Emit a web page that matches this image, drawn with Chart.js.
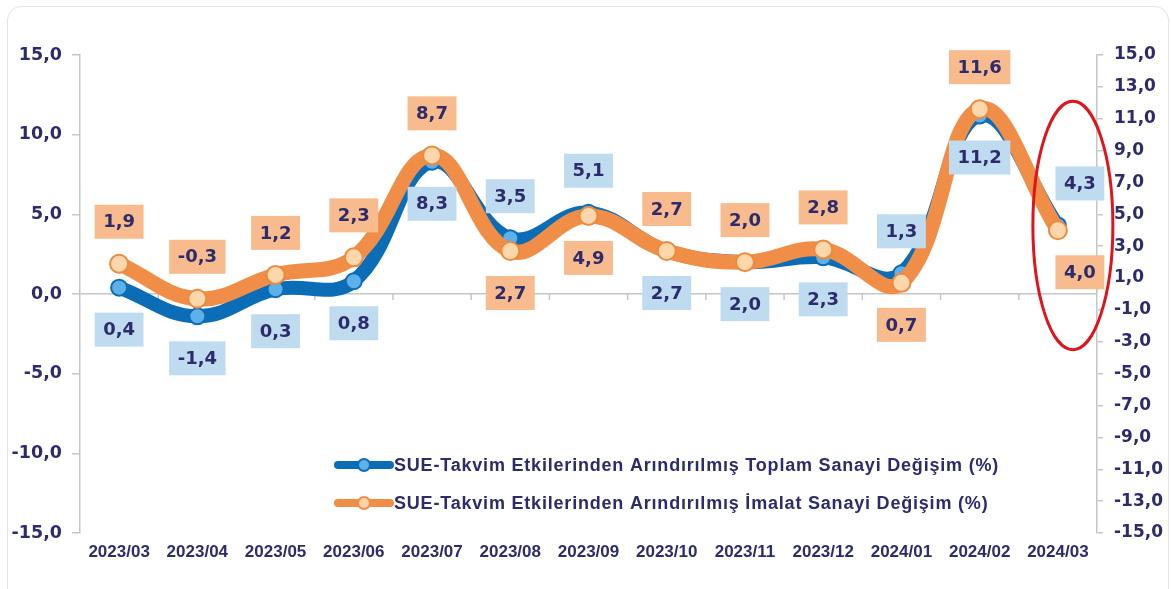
<!DOCTYPE html>
<html>
<head>
<meta charset="utf-8">
<script src="https://cdn.jsdelivr.net/npm/chart.js@4.4.1/dist/chart.umd.min.js"></script>
<style>
  html, body { margin: 0; padding: 0; background: #fff; }
  #wrap { position: relative; width: 1171px; height: 589px; overflow: hidden; }
  #frame { position: absolute; left: 7px; top: 6px; width: 1160px; height: 620px; border: 1px solid #e6e6e6; border-radius: 14px; }
  canvas { position: absolute; left: 0; top: 0; }
</style>
</head>
<body>
<div id="wrap">
  <div id="frame"></div>
  <canvas id="chart" width="1171" height="589"></canvas>
</div>
<script>
// SUE - takvim etkilerinden arındırılmış sanayi değişimi (%)
const months = ['2023/03', '2023/04', '2023/05', '2023/06', '2023/07', '2023/08', '2023/09',
                '2023/10', '2023/11', '2023/12', '2024/01', '2024/02', '2024/03'];
const toplam = [0.4, -1.4, 0.3, 0.8, 8.3, 3.5, 5.1, 2.7, 2.0, 2.3, 1.3, 11.2, 4.3];
const imalat = [1.9, -0.3, 1.2, 2.3, 8.7, 2.7, 4.9, 2.7, 2.0, 2.8, 0.7, 11.6, 4.0];
const seriesNames = [
    'SUE-Takvim Etkilerinden Arındırılmış Toplam Sanayi Değişim (%)',
    'SUE-Takvim Etkilerinden Arındırılmış İmalat Sanayi Değişim (%)'
];
const leftTicks = [-15, -10, -5, 0, 5, 10, 15];
const rightTicks = [-15, -13, -11, -9, -7, -5, -3, -1, 1, 3, 5, 7, 9, 11, 13, 15];

const NAVY = '#2c2b6c';
const BLUE = '#0b6db6';
const ORANGE = '#f08d47';
const AXIS = '#c6c6c6';
const BOX_COLORS = ['#bfdbf0', '#f7bb8e'];

function fmt(v) {
    return v.toFixed(1).replace('.', ',');
}

// value boxes, category ticks on zero line, legend, red ellipse
const decorPlugin = {
    id: 'decor',
    beforeDatasetsDraw(chart) {
        const { ctx, chartArea, scales } = chart;
        const y0 = scales.y.getPixelForValue(0);
        const step = (chartArea.right - chartArea.left) / months.length;
        ctx.save();
        ctx.strokeStyle = AXIS;
        ctx.lineWidth = 1.5;
        for (let i = 1; i < months.length; i++) {
            const x = chartArea.left + i * step;
            ctx.beginPath();
            ctx.moveTo(x, y0);
            ctx.lineTo(x, y0 + 6);
            ctx.stroke();
        }
        ctx.restore();
    },
    afterDatasetsDraw(chart) {
        const { ctx, chartArea, scales } = chart;
        const sets = chart.data.datasets;
        ctx.save();
        ctx.font = 'bold 18px "DejaVu Sans"';
        ctx.textAlign = 'center';
        ctx.textBaseline = 'middle';
        sets.forEach((ds, di) => {
            const meta = chart.getDatasetMeta(di);
            meta.data.forEach((pt, i) => {
                const v = ds.data[i];
                const other = sets[1 - di].data[i];
                // blue box goes above only where it's the higher line
                const above = di === 0 ? v > other : v >= other;
                const txt = fmt(v);
                const w = ctx.measureText(txt).width + 17;
                const h = 34;
                let cx = pt.x;
                if (i === months.length - 1) cx += 22;
                const cy = pt.y + (above ? -42 : 42);
                ctx.fillStyle = BOX_COLORS[di];
                ctx.fillRect(cx - w / 2, cy - h / 2, w, h);
                ctx.fillStyle = NAVY;
                ctx.fillText(txt, cx, cy + 1);
            });
        });

        // legend inside the plot
        const lx = chartArea.left + 258;
        const colors = [BLUE, ORANGE];
        const dots = ['#5db0e8', '#fbd3a6'];
        ctx.font = 'bold 18px "Liberation Sans"';
        ctx.letterSpacing = '0.8px';
        ctx.textAlign = 'left';
        seriesNames.forEach((name, k) => {
            const ly = chartArea.bottom - 68 + k * 38;
            ctx.strokeStyle = colors[k];
            ctx.lineWidth = 8;
            ctx.lineCap = 'round';
            ctx.beginPath();
            ctx.moveTo(lx, ly);
            ctx.lineTo(lx + 52, ly);
            ctx.stroke();
            ctx.beginPath();
            ctx.arc(lx + 26, ly, 6, 0, Math.PI * 2);
            ctx.fillStyle = dots[k];
            ctx.fill();
            ctx.lineWidth = 2;
            ctx.strokeStyle = colors[k];
            ctx.stroke();
            ctx.fillStyle = NAVY;
            ctx.fillText(name, lx + 56, ly + 1);
        });
        ctx.letterSpacing = '0px';

        // red ellipse around the last month
        const last = months.length - 1;
        const ex = scales.x.getPixelForValue(last) + 15;
        const yTop = scales.y.getPixelForValue(12.1);
        const yBot = scales.y.getPixelForValue(-3.5);
        ctx.strokeStyle = '#e0151b';
        ctx.lineWidth = 3;
        ctx.beginPath();
        ctx.ellipse(ex, (yTop + yBot) / 2, 40, (yBot - yTop) / 2, 0, 0, Math.PI * 2);
        ctx.stroke();
        ctx.restore();
    }
};

function tickFont(size) {
    return { family: '"DejaVu Sans"', size: size, weight: 'bold' };
}

new Chart(document.getElementById('chart'), {
    type: 'line',
    data: {
        labels: months,
        datasets: [{
            label: seriesNames[0],
            data: toplam,
            yAxisID: 'y',
            borderColor: BLUE,
            borderWidth: 14,
            borderCapStyle: 'round',
            borderJoinStyle: 'round',
            tension: 0.4,
            pointRadius: 8,
            pointBackgroundColor: '#5db0e8',
            pointBorderColor: BLUE,
            pointBorderWidth: 2,
            order: 1,
        }, {
            label: seriesNames[1],
            data: imalat,
            yAxisID: 'y',
            borderColor: ORANGE,
            borderWidth: 15,
            borderCapStyle: 'round',
            borderJoinStyle: 'round',
            tension: 0.4,
            pointRadius: 9,
            pointBackgroundColor: '#fcd7ab',
            pointBorderColor: '#ee8a3e',
            pointBorderWidth: 2,
            order: 0,
        }]
    },
    options: {
        responsive: false,
        animation: false,
        devicePixelRatio: 1,
        layout: { padding: { top: 55, left: 0, right: 0, bottom: 0 } },
        plugins: {
            legend: { display: false },
            tooltip: { enabled: false },
        },
        scales: {
            x: {
                offset: true,
                grid: { display: false, drawTicks: false },
                border: { display: false },
                ticks: {
                    color: NAVY,
                    font: { family: '"Liberation Sans"', size: 17, weight: 'bold' },
                    padding: 9,
                    maxRotation: 0,
                    autoSkip: false,
                },
                afterFit: (s) => { s.height = 56; },
            },
            y: {
                position: 'left',
                min: -15,
                max: 15,
                afterBuildTicks: (s) => { s.ticks = leftTicks.map(v => ({ value: v })); },
                grid: {
                    color: (c) => (c.tick && c.tick.value === 0 ? AXIS : 'rgba(0,0,0,0)'),
                    tickColor: AXIS,
                    tickLength: 8,
                    lineWidth: 1.5,
                },
                border: { color: AXIS, width: 1.5 },
                ticks: {
                    color: NAVY,
                    font: tickFont(17.5),
                    padding: 10,
                    callback: (v) => fmt(v),
                },
                afterFit: (s) => { s.width = 80; },
            },
            y1: {
                display: true,
                position: 'right',
                min: -15,
                max: 15,
                afterBuildTicks: (s) => { s.ticks = rightTicks.map(v => ({ value: v })); },
                grid: { drawOnChartArea: false, tickColor: AXIS, tickLength: 6, lineWidth: 1.5 },
                border: { color: AXIS, width: 1.5 },
                ticks: {
                    color: NAVY,
                    font: tickFont(17),
                    padding: 11,
                    callback: (v) => fmt(v),
                },
                afterFit: (s) => { s.width = 74; },
            }
        }
    },
    plugins: [decorPlugin]
});
</script>
</body>
</html>
